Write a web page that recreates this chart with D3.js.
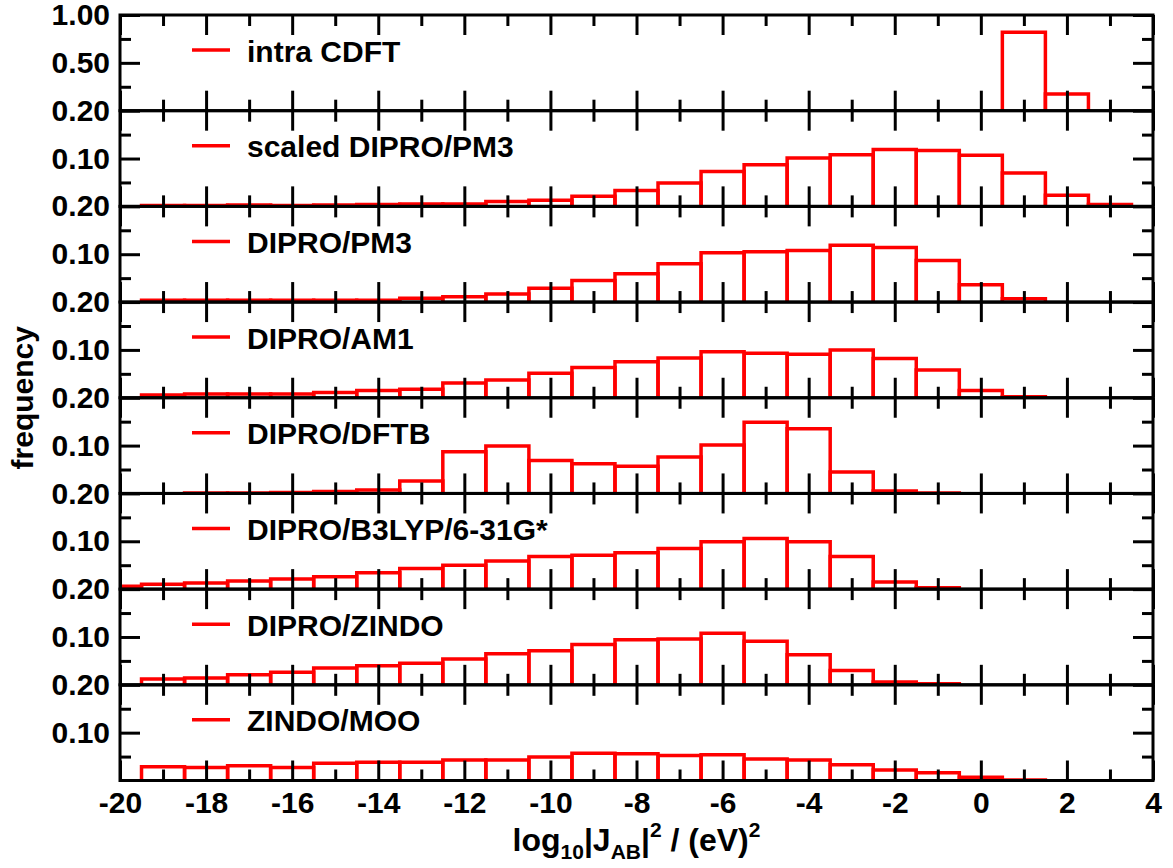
<!DOCTYPE html>
<html lang="en">
<head>
<meta charset="UTF-8" />
<title>Coupling element distributions</title>
<script src="https://d3js.org/d3.v7.min.js"></script>
<style>
  body { margin: 0; background: #fff; }
  svg { font-family: "Liberation Sans", Arial, Helvetica, sans-serif; font-weight: bold; }
  .tick line { stroke: #000; stroke-width: 3px; }
  .frame { fill: none; stroke: #000; stroke-width: 3px; }
  .bar { fill: none; stroke: #ff0000; stroke-width: 3.5px; }
</style>
</head>
<body>
<svg width="1173" height="868"></svg>
<script>
// bin centres (bin width 1)
const centers = d3.range(-20, 4);
const methods = ["intra CDFT", "scaled DIPRO/PM3", "DIPRO/PM3", "DIPRO/AM1",
  "DIPRO/DFTB", "DIPRO/B3LYP/6-31G*", "DIPRO/ZINDO", "ZINDO/MOO"];

//                     -20   -19   -18   -17   -16   -15   -14   -13   -12   -11   -10    -9    -8    -7    -6    -5    -4    -3    -2    -1     0     1     2     3
const intraCDFT   = [    0,    0,    0,    0,    0,    0,    0,    0,    0,    0,    0,    0,    0,    0,    0,    0,    0,    0,    0,    0,    0, 0.82, .175,    0];
const scaledPM3   = [    0, .002, .002, .003, .002, .003, .004, .005, .005, .010, .013, .021, .033, .049, .073, .087, .101, .108, .119, .117, .107, .070, .023, .004];
const diproPM3    = [    0, .004, .004, .004, .004, .004, .004, .008, .011, .017, .029, .045, .059, .080, .103, .105, .108, .119, .114, .087, .036, .007,    0,    0];
const diproAM1    = [    0, .006, .008, .008, .008, .011, .015, .018, .031, .037, .051, .063, .075, .083, .096, .093, .091, .100, .082, .058, .015, .002,    0,    0];
const diproDFTB   = [    0,    0, .001, .001, .002, .004, .007, .026, .087, .099, .069, .062, .057, .076, .101, .149, .135, .045, .005, .001,    0,    0,    0,    0];
const diproB3LYP  = [ .006, .010, .013, .017, .021, .026, .034, .043, .050, .059, .068, .071, .076, .085, .099, .106, .099, .068, .015, .003,    0,    0,    0,    0];
const diproZINDO  = [    0, .012, .014, .021, .026, .035, .040, .045, .054, .065, .071, .084, .094, .096, .108, .091, .063, .030, .006, .002,    0,    0,    0,    0];
const zindoMOO    = [    0, .029, .027, .031, .027, .036, .038, .038, .043, .043, .049, .057, .056, .052, .054, .045, .043, .033, .022, .016, .007, .001,    0,    0];

const series = [intraCDFT, scaledPM3, diproPM3, diproAM1, diproDFTB, diproB3LYP, diproZINDO, zindoMOO];
const yTops = [1.0, 0.2, 0.2, 0.2, 0.2, 0.2, 0.2, 0.2];
const xMajor = d3.range(-20, 5, 2);
const xMinor = d3.range(-19, 4, 2);

const svg = d3.select("svg"),
  margin = {top: 15, right: 20, bottom: 87.5, left: 120},
  width = +svg.attr("width") - margin.left - margin.right,
  height = +svg.attr("height") - margin.top - margin.bottom,
  g = svg.append("g").attr("transform", `translate(${margin.left},${margin.top})`);

const x = d3.scaleLinear().domain([-20, 4]).range([0, width]);
const panels = d3.scaleBand().domain(d3.range(methods.length)).range([0, height]);
const ph = panels.bandwidth();

g.append("clipPath").attr("id", "plot-clip")
  .append("rect").attr("x", 0).attr("y", -10).attr("width", width).attr("height", ph + 10);

function clean(sel) {
  sel.select(".domain").remove();
}

methods.forEach((name, i) => {
  const p = g.append("g").attr("transform", `translate(0,${panels(i)})`);
  const top = yTops[i];
  const y = d3.scaleLinear().domain([0, top]).range([ph, 0]);
  const yMajor = [top / 2, top];
  const yMinor = [top / 4, top * 3 / 4];

  // bars
  p.append("g").attr("clip-path", "url(#plot-clip)")
    .selectAll("path")
    .data(centers.map((c, k) => ({c, v: series[i][k]})).filter(d => d.v > 0))
    .join("path")
    .attr("class", "bar")
    .attr("d", d => `M${x(d.c - 0.5)},${y(0)}V${y(d.v)}H${x(d.c + 0.5)}V${y(0)}`);

  // x ticks, top and bottom of each panel, pointing inward
  p.append("g").call(d3.axisTop(x).tickValues(xMajor).tickSize(-20).tickFormat("")).call(clean);
  p.append("g").call(d3.axisTop(x).tickValues(xMinor).tickSize(-11).tickFormat("")).call(clean);
  const last = i === methods.length - 1;
  p.append("g").attr("transform", `translate(0,${ph})`)
    .call(d3.axisBottom(x).tickValues(xMajor).tickSize(-20).tickPadding(last ? 11 : 0)
      .tickFormat(last ? d => String(d) : ""))
    .call(clean);
  p.append("g").attr("transform", `translate(0,${ph})`)
    .call(d3.axisBottom(x).tickValues(xMinor).tickSize(-11).tickFormat("")).call(clean);

  // y ticks, left with labels, right mirrored
  p.append("g")
    .call(d3.axisLeft(y).tickValues(yMajor).tickSize(-20).tickPadding(10).tickFormat(d3.format(".2f")))
    .call(clean);
  p.append("g").call(d3.axisLeft(y).tickValues(yMinor).tickSize(-11).tickFormat("")).call(clean);
  p.append("g").attr("transform", `translate(${width},0)`)
    .call(d3.axisRight(y).tickValues(yMajor).tickSize(-20).tickFormat("")).call(clean);
  p.append("g").attr("transform", `translate(${width},0)`)
    .call(d3.axisRight(y).tickValues(yMinor).tickSize(-11).tickFormat("")).call(clean);

  p.append("rect").attr("class", "frame").attr("width", width).attr("height", ph);

  // legend
  p.append("line")
    .attr("x1", 72).attr("x2", 110).attr("y1", 35).attr("y2", 35)
    .attr("stroke", "#ff0000").attr("stroke-width", 3.5);
  p.append("text")
    .attr("x", 127).attr("y", 46.5)
    .attr("font-size", 30).attr("fill", "#000")
    .text(name);
});

g.selectAll(".tick text").attr("font-size", 30).attr("font-family", null).attr("fill", "#000");

// axis titles
svg.append("text")
  .attr("transform", `translate(33,${margin.top + height / 2}) rotate(-90)`)
  .attr("text-anchor", "middle").attr("font-size", 30)
  .text("frequency");

const xt = svg.append("text")
  .attr("x", margin.left + width / 2).attr("y", 851)
  .attr("text-anchor", "middle").attr("font-size", 32);
xt.append("tspan").text("log");
xt.append("tspan").attr("font-size", 21).attr("dy", 8).text("10");
xt.append("tspan").attr("dy", -8).text("|J");
xt.append("tspan").attr("font-size", 21).attr("dy", 8).text("AB");
xt.append("tspan").attr("dy", -8).text("|");
xt.append("tspan").attr("font-size", 21).attr("dy", -14).text("2");
xt.append("tspan").attr("dy", 14).text(" / (eV)");
xt.append("tspan").attr("font-size", 21).attr("dy", -14).text("2");
</script>
</body>
</html>
